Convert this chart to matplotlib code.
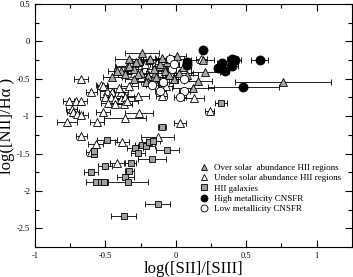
import matplotlib
matplotlib.use("Agg")
import matplotlib.pyplot as plt
from matplotlib.lines import Line2D
from matplotlib.ticker import MultipleLocator, FixedLocator

plt.rcParams["font.family"] = ["Liberation Serif", "DejaVu Serif"]
plt.rcParams["axes.unicode_minus"] = False

# over solar abundance HII regions (grey triangles): x, y, xerr
over_x = [-0.24, -0.33, -0.19, -0.26, -0.345, -0.39, -0.30, -0.25, -0.20, -0.15,
          -0.12, -0.06, -0.01, -0.14, -0.20, -0.04, 0.01, 0.19, 0.21, 0.155,
          0.12, 0.02, -0.01, -0.33, -0.27, -0.21, -0.155, -0.11, -0.18, 0.76,
          -0.42, -0.36, -0.08, -0.05, 0.05, 0.08, -0.30, -0.10, -0.28, -0.45]
over_y = [-0.15, -0.24, -0.25, -0.26, -0.35, -0.40, -0.37, -0.42, -0.46, -0.42,
          -0.33, -0.28, -0.51, -0.48, -0.55, -0.24, -0.20, -0.25, -0.41, -0.53,
          -0.62, -0.42, -0.51, -0.33, -0.44, -0.55, -0.37, -0.31, -0.24, -0.54,
          -0.40, -0.44, -0.40, -0.45, -0.35, -0.45, -0.50, -0.22, -0.28, -0.48]
over_xerr = [0.12, 0.10, 0.06, 0.05, 0.08, 0.05, 0.06, 0.05, 0.05, 0.06,
             0.05, 0.06, 0.08, 0.06, 0.05, 0.10, 0.06, 0.08, 0.10, 0.10,
             0.15, 0.10, 0.06, 0.10, 0.08, 0.10, 0.05, 0.04, 0.05, 0.34,
             0.06, 0.05, 0.05, 0.05, 0.06, 0.08, 0.06, 0.05, 0.05, 0.07]

# under solar abundance HII regions (open triangles)
under_x = [-0.67, -0.53, -0.60, -0.49, -0.45, -0.42, -0.39, -0.50, -0.46, -0.43,
           -0.39, -0.36, -0.48, -0.43, -0.37, -0.27, -0.76, -0.71, -0.67, -0.74,
           -0.73, -0.70, -0.67, -0.52, -0.26, -0.36, -0.77, -0.56, -0.67, -0.57,
           -0.60, -0.38, -0.42, -0.13, 0.13, 0.24, 0.03, -0.10, -0.345, 0.18,
           -0.22, -0.30, -0.16, -0.25, -0.40, -0.33, -0.04, -0.07, -0.52]
under_y = [-0.50, -0.59, -0.68, -0.66, -0.68, -0.71, -0.68, -0.75, -0.75, -0.77,
           -0.77, -0.75, -0.82, -0.84, -0.84, -0.73, -0.80, -0.80, -0.80, -0.91,
           -0.95, -0.97, -0.99, -0.94, -0.96, -1.02, -1.08, -1.08, -1.26, -1.37,
           -1.48, -1.34, -1.63, -1.28, -0.76, -0.93, -1.09, -0.73, -0.80, -0.24,
           -0.30, -0.42, -0.50, -0.48, -0.62, -0.60, -0.42, -0.60, -0.60]
under_xerr = [0.05, 0.04, 0.04, 0.05, 0.05, 0.05, 0.05, 0.04, 0.05, 0.05,
              0.05, 0.06, 0.05, 0.05, 0.06, 0.08, 0.04, 0.04, 0.04, 0.04,
              0.04, 0.04, 0.05, 0.05, 0.10, 0.15, 0.07, 0.05, 0.04, 0.05,
              0.04, 0.05, 0.05, 0.12, 0.07, 0.03, 0.04, 0.04, 0.08, 0.04,
              0.04, 0.05, 0.05, 0.05, 0.08, 0.06, 0.03, 0.05, 0.04]

# HII galaxies (grey squares)
gal_x = [-0.10, -0.49, -0.58, -0.58, -0.29, -0.27, -0.24, -0.21, -0.19, -0.16,
         -0.06, -0.17, -0.50, -0.32, -0.33, -0.60, -0.36, -0.57, -0.53, -0.51,
         -0.34, -0.13, -0.37, 0.32]
gal_y = [-1.15, -1.32, -1.50, -1.47, -1.42, -1.49, -1.38, -1.40, -1.34, -1.33,
         -1.45, -1.57, -1.66, -1.63, -1.73, -1.74, -1.82, -1.88, -1.88, -1.88,
         -1.88, -2.17, -2.34, -0.82]
gal_xerr = [0.03, 0.07, 0.02, 0.02, 0.06, 0.05, 0.05, 0.06, 0.05, 0.05,
            0.08, 0.10, 0.05, 0.04, 0.03, 0.05, 0.06, 0.07, 0.05, 0.02,
            0.14, 0.09, 0.09, 0.04]

# high metallicity CNSFR (black circles)
high_x = [0.195, 0.595, 0.40, 0.42, 0.33, 0.40, 0.30, 0.35, 0.08, 0.08, 0.48]
high_y = [-0.12, -0.25, -0.23, -0.25, -0.29, -0.33, -0.36, -0.40, -0.28, -0.32, -0.61]
high_xerr = [0.02, 0.06, 0.04, 0.04, 0.04, 0.04, 0.03, 0.03, 0.03, 0.03, 0.25]

# low metallicity CNSFR (open circles)
low_x = [-0.03, -0.17, -0.09, -0.11, 0.055, 0.06, 0.03, -0.04, -0.01]
low_y = [-0.37, -0.58, -0.55, -0.66, -0.51, -0.66, -0.74, -0.24, -0.30]
low_xerr = [0.03, 0.04, 0.04, 0.04, 0.04, 0.04, 0.04, 0.03, 0.03]

labels = ["Over solar  abundance HII regions", "Under solar abundance HII regions",
          "HII galaxies", "High metallicity CNSFR", "Low metallicity CNSFR"]

fig = plt.figure(figsize=(3.53, 2.77), dpi=100)
ax = fig.add_axes([0.099, 0.108, 0.898, 0.878])

eb = dict(ls="none", ecolor="black", elinewidth=0.6, capsize=2.5, capthick=0.6,
          mec="black", mew=0.6)
ax.errorbar(under_x, under_y, xerr=under_xerr, fmt="^", ms=5.5, mfc="white", **eb)
ax.errorbar(over_x, over_y, xerr=over_xerr, fmt="^", ms=5.5, mfc="#a8a8a8", **eb)
ax.errorbar(gal_x, gal_y, xerr=gal_xerr, fmt="s", ms=5, mfc="#a0a0a0", **eb)
ax.errorbar(low_x, low_y, xerr=low_xerr, fmt="o", ms=6, mfc="white", **eb)
ax.errorbar(high_x, high_y, xerr=high_xerr, fmt="o", ms=6.5, mfc="black", **eb)

ax.set_xlim(-1, 1.25)
ax.set_ylim(-2.75, 0.5)
xt = [-1, -0.5, 0, 0.5, 1]
yt = [0.5, 0, -0.5, -1, -1.5, -2, -2.5]
ax.xaxis.set_major_locator(FixedLocator(xt))
ax.yaxis.set_major_locator(FixedLocator(yt))
ax.set_xticklabels(["-1", "-0.5", "0", "0.5", "1"])
ax.set_yticklabels(["0.5", "0", "-0.5", "-1", "-1.5", "-2", "-2.5"])
ax.xaxis.set_minor_locator(MultipleLocator(0.25))
ax.yaxis.set_minor_locator(MultipleLocator(0.25))
ax.tick_params(which="both", direction="in", top=True, right=True, labelsize=6)
ax.tick_params(which="major", length=5, width=0.8)
ax.tick_params(which="minor", length=3, width=0.8)
for s in ax.spines.values():
    s.set_linewidth(0.8)

ax.set_xlabel("log([SII]/[SIII]", fontsize=12, labelpad=1)
ax.set_ylabel("log([NII]/H\u03b1 )", fontsize=12, labelpad=1)

handles = [
    Line2D([], [], ls="none", marker="^", ms=4.5, mfc="#a8a8a8", mec="black", mew=0.6),
    Line2D([], [], ls="none", marker="^", ms=4.5, mfc="white", mec="black", mew=0.6),
    Line2D([], [], ls="none", marker="s", ms=4.5, mfc="#a0a0a0", mec="black", mew=0.6),
    Line2D([], [], ls="none", marker="o", ms=5, mfc="black", mec="black", mew=0.6),
    Line2D([], [], ls="none", marker="o", ms=5, mfc="white", mec="black", mew=0.6),
]
ax.legend(handles, labels, loc="lower left", bbox_to_anchor=(0.5, 0.115),
          frameon=False, fontsize=6.5, handlelength=1.0, handletextpad=0.6,
          labelspacing=0.2, borderpad=0.2)

fig.savefig("out.png", dpi=100)
